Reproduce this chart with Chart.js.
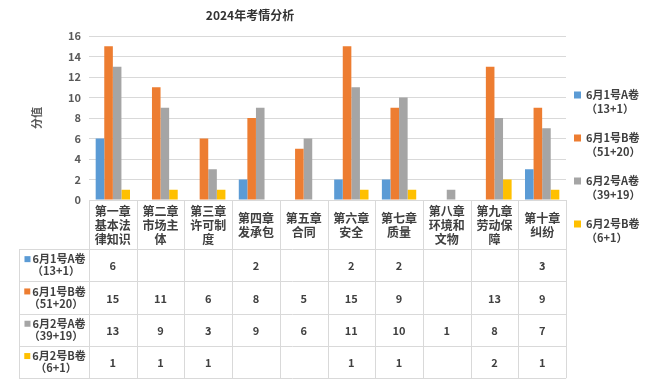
<!DOCTYPE html>
<html>
<head>
<meta charset="utf-8">
<script src="https://cdn.jsdelivr.net/npm/chart.js@4.4.0/dist/chart.umd.min.js"></script>
<style>
    body { margin: 0; background: #fff; }
</style>
</head>
<body>
<canvas id="myChart" width="664" height="388"></canvas>
<script>
// datos del gráfico
const capitulos = [
    ["第一章", "基本法", "律知识"],
    ["第二章", "市场主", "体"],
    ["第三章", "许可制", "度"],
    ["第四章", "发承包"],
    ["第五章", "合同"],
    ["第六章", "安全"],
    ["第七章", "质量"],
    ["第八章", "环境和", "文物"],
    ["第九章", "劳动保", "障"],
    ["第十章", "纠纷"]
];
const nombresSerie = ["6月1号A卷", "6月1号B卷", "6月2号A卷", "6月2号B卷"];
const subSerie = ["（13+1）", "（51+20）", "（39+19）", "（6+1）"];
const junio1A = [6, null, null, 2, null, 2, 2, null, null, 3];
const junio1B = [15, 11, 6, 8, 5, 15, 9, null, 13, 9];
const junio2A = [13, 9, 3, 9, 6, 11, 10, 1, 8, 7];
const junio2B = [1, 1, 1, null, null, 1, 1, null, 2, 1];
const colores = ["#5B9BD5", "#ED7D31", "#A5A5A5", "#FFC000"];
const titulo = "2024年考情分析";
const tituloEjeY = "分值";

const fuente = '"Microsoft YaHei", "Noto Sans CJK SC", sans-serif';
const colorTexto = "#404040";
const colorLinea = "#d9d9d9";

const series = [junio1A, junio1B, junio2A, junio2B];

// tabla de datos, título, leyenda
const tablaPlugin = {
    id: "tabla",
    afterDraw(chart) {
        const ctx = chart.ctx;
        const area = chart.chartArea;
        const n = capitulos.length;
        const w = (area.right - area.left) / n;
        const top = area.bottom;
        const headBottom = 249;
        const rowH = 32.3;
        const tableBottom = headBottom + rowH * series.length;
        const labelLeft = 19;

        ctx.save();
        ctx.strokeStyle = colorLinea;
        ctx.lineWidth = 1;
        ctx.beginPath();
        // horizontales
        ctx.moveTo(area.left, top + 0.5);
        ctx.lineTo(area.right, top + 0.5);
        for (let r = 0; r <= series.length; r++) {
            const y = Math.round(headBottom + r * rowH) + 0.5;
            ctx.moveTo(labelLeft, y);
            ctx.lineTo(area.right, y);
        }
        // verticales
        for (let i = 0; i <= n; i++) {
            const x = Math.round(area.left + i * w) + 0.5;
            ctx.moveTo(x, top);
            ctx.lineTo(x, tableBottom);
        }
        ctx.moveTo(labelLeft + 0.5, headBottom);
        ctx.lineTo(labelLeft + 0.5, tableBottom);
        ctx.stroke();

        ctx.fillStyle = colorTexto;
        ctx.textAlign = "center";
        ctx.textBaseline = "middle";

        // categorías
        ctx.font = "bold 12px " + fuente;
        capitulos.forEach((lineas, i) => {
            const cx = area.left + (i + 0.5) * w;
            const y0 = 225 - (lineas.length - 1) * 7;
            lineas.forEach((t, k) => ctx.fillText(t, cx, y0 + k * 14));
        });

        // filas
        series.forEach((datos, r) => {
            const cy = headBottom + (r + 0.5) * rowH;
            ctx.font = "bold 11px " + fuente;
            datos.forEach((v, i) => {
                if (v === null) return;
                ctx.fillStyle = colorTexto;
                ctx.fillText(String(v), area.left + (i + 0.5) * w, cy + 1);
            });
            const tw = ctx.measureText(nombresSerie[r]).width;
            const gx = 55 - (tw + 8) / 2;
            ctx.fillStyle = colores[r];
            ctx.fillRect(gx, cy - 9, 6, 6);
            ctx.fillStyle = colorTexto;
            ctx.textAlign = "left";
            ctx.fillText(nombresSerie[r], gx + 8, cy - 6);
            ctx.textAlign = "center";
            ctx.fillText(subSerie[r], 56, cy + 6);
        });

        // leyenda
        ctx.textAlign = "left";
        ctx.font = "bold 11px " + fuente;
        nombresSerie.forEach((nombre, r) => {
            const y = 95 + r * 43;
            ctx.fillStyle = colores[r];
            ctx.fillRect(574, y - 3.5, 7, 7);
            ctx.fillStyle = colorTexto;
            ctx.fillText(nombre, 586, y);
            ctx.fillText(subSerie[r], 586, y + 14);
        });

        // título
        ctx.textAlign = "center";
        ctx.font = "bold 12px " + fuente;
        ctx.fillStyle = "#333";
        ctx.fillText(titulo, 250, 15);

        // título eje y
        ctx.font = "bold 11px " + fuente;
        ctx.fillStyle = "#595959";
        ctx.translate(37, 118);
        ctx.rotate(-Math.PI / 2);
        ctx.fillText(tituloEjeY, 0, 0);
        ctx.restore();
    }
};

const ctx = document.getElementById("myChart").getContext("2d");

new Chart(ctx, {
    type: "bar",
    data: {
        labels: capitulos.map(c => c.join("")),
        datasets: series.map((datos, i) => ({
            label: nombresSerie[i] + subSerie[i],
            data: datos,
            backgroundColor: colores[i],
            categoryPercentage: 0.72,
            barPercentage: 1.0
        }))
    },
    options: {
        responsive: false,
        animation: false,
        layout: {
            padding: { left: 0, right: 98, top: 36, bottom: 188 }
        },
        scales: {
            x: {
                display: false
            },
            y: {
                min: 0,
                max: 16,
                ticks: {
                    stepSize: 2,
                    padding: 8,
                    color: "#595959",
                    font: { size: 11, weight: "bold", family: fuente }
                },
                grid: {
                    color: colorLinea,
                    drawTicks: false
                },
                border: { display: false },
                afterFit(scale) {
                    scale.width = 89;
                }
            }
        },
        plugins: {
            legend: { display: false },
            title: { display: false },
            tooltip: { enabled: false }
        }
    },
    plugins: [tablaPlugin]
});
</script>
</body>
</html>
